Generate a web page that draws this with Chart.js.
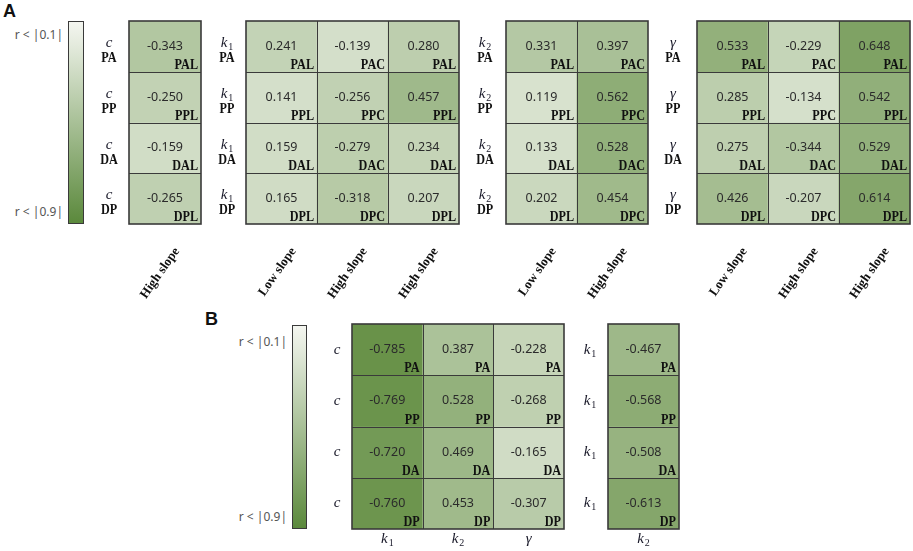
<!DOCTYPE html>
<html>
<head>
<meta charset="utf-8">
<script src="https://cdn.jsdelivr.net/npm/chart.js@4.4.0/dist/chart.umd.min.js"></script>
<style>
  body { margin: 0; background: #fff; }
  #fig { position: relative; width: 913px; height: 551px; overflow: hidden; }
  #fig canvas { position: absolute; left: 0; top: 0; }
  .panel { position: absolute; font: bold 18px "Liberation Sans", Arial, sans-serif; color: #111; }
  .cbar { position: absolute; box-sizing: border-box; border: 1px solid #3a3a3a;
          background: linear-gradient(#f4f6f0, #e3eadc 12%, #5b893c); }
  .clab { position: absolute; width: 60px; text-align: right; font: 12px "Noto Sans", sans-serif;
          color: #555; line-height: 14px; }
</style>
</head>
<body>
<div id="fig">
  <div class="panel" style="left:3px;top:1px">A</div>
  <div class="cbar" style="left:68px;top:21px;width:16px;height:203px"></div>
  <div class="clab" style="left:3px;top:28px">r &lt; |0.1|</div>
  <div class="clab" style="left:3px;top:205px">r &lt; |0.9|</div>

  <div class="panel" style="left:205px;top:309px">B</div>
  <div class="cbar" style="left:292px;top:325px;width:15px;height:204px"></div>
  <div class="clab" style="left:227px;top:335px">r &lt; |0.1|</div>
  <div class="clab" style="left:227px;top:510px">r &lt; |0.9|</div>
</div>

<script>
// ---- data, panel A ----
const rowsA = ["PA", "PP", "DA", "DP"];

const slopeC = ["High slope"];
const valuesC = [[-0.343], [-0.250], [-0.159], [-0.265]];
const tagsC = [["PAL"], ["PPL"], ["DAL"], ["DPL"]];

const slopeK1 = ["Low slope", "High slope", "High slope"];
const valuesK1 = [
  [0.241, -0.139, 0.280],
  [0.141, -0.256, 0.457],
  [0.159, -0.279, 0.234],
  [0.165, -0.318, 0.207]
];
const tagsK1 = [
  ["PAL", "PAC", "PAL"],
  ["PPL", "PPC", "PPL"],
  ["DAL", "DAC", "DAL"],
  ["DPL", "DPC", "DPL"]
];

const slopeK2 = ["Low slope", "High slope"];
const valuesK2 = [
  [0.331, 0.397],
  [0.119, 0.562],
  [0.133, 0.528],
  [0.202, 0.454]
];
const tagsK2 = [
  ["PAL", "PAC"],
  ["PPL", "PPC"],
  ["DAL", "DAC"],
  ["DPL", "DPC"]
];

const slopeG = ["Low slope", "High slope", "High slope"];
const valuesG = [
  [0.533, -0.229, 0.648],
  [0.285, -0.134, 0.542],
  [0.275, -0.344, 0.529],
  [0.426, -0.207, 0.614]
];
const tagsG = [
  ["PAL", "PAC", "PAL"],
  ["PPL", "PPC", "PPL"],
  ["DAL", "DAC", "DAL"],
  ["DPL", "DPC", "DPL"]
];

// ---- data, panel B ----
const rowsB = ["PA", "PP", "DA", "DP"];
const paramsB1 = ["k1", "k2", "γ"];
const valuesB1 = [
  [-0.785, 0.387, -0.228],
  [-0.769, 0.528, -0.268],
  [-0.720, 0.469, -0.165],
  [-0.760, 0.453, -0.307]
];
const paramsB2 = ["k2"];
const valuesB2 = [[-0.467], [-0.568], [-0.508], [-0.613]];

const W = 913, H = 551;
const VAL_FONT = '12.5px "Noto Sans", sans-serif';
const TAG_FONT = 'bold 14px "Liberation Serif", serif';
const ITAL_FONT = 'italic 15px "Liberation Serif", serif';
const SUB_FONT = '10px "Liberation Serif", serif';
const SLOPE_FONT = 'bold 13px "Liberation Serif", serif';
const LINE = '#3a3a3a';

function cellColor(r) {
  var t = (Math.abs(r) - 0.1) / 0.7;
  t = Math.min(Math.max(t, 0), 1);
  var lo = [219, 228, 210], hi = [102, 144, 70];
  var c = lo.map(function(v, k) { return Math.round(v + (hi[k] - v) * t); });
  return 'rgb(' + c.join(',') + ')';
}

function squeezed(ctx, text, x, y, align) {
  ctx.save();
  ctx.translate(x, y);
  ctx.scale(0.87, 1);
  ctx.textAlign = align;
  ctx.fillText(text, 0, 0);
  ctx.restore();
}

// draws c, γ, k1, k2 (k with an upright subscript), centred on cx
function drawParam(ctx, p, cx, baseline) {
  ctx.save();
  ctx.textAlign = 'left';
  ctx.textBaseline = 'alphabetic';
  ctx.font = ITAL_FONT;
  var head = p.charAt(0), sub = p.slice(1);
  var w1 = ctx.measureText(head).width;
  ctx.font = SUB_FONT;
  var w2 = sub ? ctx.measureText(sub).width + 1 : 0;
  var x0 = cx - (w1 + w2) / 2;
  ctx.font = ITAL_FONT;
  ctx.fillText(head, x0, baseline);
  if (sub) {
    ctx.font = SUB_FONT;
    ctx.fillText(sub, x0 + w1 + 1, baseline + 3);
  }
  ctx.restore();
}

function makeCanvas(id) {
  var c = document.createElement('canvas');
  c.id = id;
  c.width = W;
  c.height = H;
  document.getElementById('fig').appendChild(c);
  return c.getContext('2d');
}

function heatmapPlugin(spec) {
  return {
    id: 'cells-' + spec.id,
    afterDraw: function(chart) {
      var ctx = chart.ctx;
      var xs = chart.scales.x, ys = chart.scales.y, area = chart.chartArea;
      var nCols = spec.cols.length, nRows = spec.values.length;

      // grid
      ctx.save();
      ctx.strokeStyle = LINE;
      ctx.lineWidth = 1;
      ctx.beginPath();
      for (var k = 1; k < nCols; k++) {
        var gx = Math.round(xs.getPixelForValue(k - 0.5)) + 0.5;
        ctx.moveTo(gx, area.top); ctx.lineTo(gx, area.bottom);
      }
      for (var r = 1; r < nRows; r++) {
        var gy = Math.round(ys.getPixelForValue(r)) + 0.5;
        ctx.moveTo(area.left, gy); ctx.lineTo(area.right, gy);
      }
      ctx.stroke();
      ctx.lineWidth = 1.6;
      ctx.strokeRect(area.left, area.top, area.right - area.left, area.bottom - area.top);
      ctx.restore();

      // values and tags
      ctx.save();
      for (var i = 0; i < nRows; i++) {
        var meta = chart.getDatasetMeta(i);
        meta.data.forEach(function(bar, j) {
          var p = bar.getProps(['x', 'y', 'base', 'width'], true);
          var top = Math.min(p.y, p.base), bottom = Math.max(p.y, p.base);
          ctx.fillStyle = '#2b2b2b';
          ctx.font = VAL_FONT;
          ctx.textAlign = 'center';
          ctx.textBaseline = 'middle';
          ctx.fillText(spec.values[i][j].toFixed(3), p.x, (top + bottom) / 2);
          ctx.fillStyle = '#111';
          ctx.font = TAG_FONT;
          ctx.textBaseline = 'alphabetic';
          squeezed(ctx, spec.tags[i][j], p.x + p.width / 2 - 3, bottom - 3, 'right');
        });
      }

      // row labels
      for (var i2 = 0; i2 < nRows; i2++) {
        var rTop = ys.getPixelForValue(i2);
        var rMid = ys.getPixelForValue(i2 + 0.5);
        ctx.fillStyle = '#1a1a2a';
        if (spec.rowNames) {
          drawParam(ctx, spec.param, spec.labelX, rTop + 26);
          ctx.fillStyle = '#111';
          ctx.font = TAG_FONT;
          ctx.textBaseline = 'alphabetic';
          squeezed(ctx, spec.rowNames[i2], spec.labelX, rTop + 41, 'center');
        } else {
          drawParam(ctx, spec.param, spec.labelX, rMid + 4);
        }
      }

      // column labels
      for (var j2 = 0; j2 < nCols; j2++) {
        var cx = xs.getPixelForValue(j2);
        if (spec.colStyle === 'slope') {
          ctx.save();
          ctx.translate(cx + 12, area.bottom + 25);
          ctx.rotate(-55 * Math.PI / 180);
          ctx.fillStyle = '#111';
          ctx.font = SLOPE_FONT;
          ctx.textAlign = 'right';
          ctx.textBaseline = 'middle';
          ctx.fillText(spec.cols[j2], 0, 0);
          ctx.restore();
        } else {
          ctx.fillStyle = '#1a1a2a';
          drawParam(ctx, spec.cols[j2], cx, area.bottom + 14);
        }
      }
      ctx.restore();
    }
  };
}

function initHeatmap(spec) {
  var box = spec.box;
  var datasets = spec.values.map(function(rowVals, i) {
    return {
      data: spec.cols.map(function() { return [i, i + 1]; }),
      backgroundColor: rowVals.map(cellColor),
      borderWidth: 0,
      grouped: false,
      barPercentage: 1,
      categoryPercentage: 1
    };
  });

  const config = {
    type: 'bar',
    data: { labels: spec.cols, datasets: datasets },
    options: {
      responsive: false,
      animation: false,
      events: [],
      layout: {
        padding: { left: box[0], top: box[1], right: W - box[2], bottom: H - box[3] }
      },
      scales: {
        x: { display: false, offset: true },
        y: { display: false, min: 0, max: spec.values.length, reverse: true }
      },
      plugins: {
        legend: { display: false },
        tooltip: { enabled: false }
      }
    },
    plugins: [heatmapPlugin(spec)]
  };

  new Chart(makeCanvas(spec.id), config);
}

function rowTags(rows, cols) {
  return rows.map(function(r) { return cols.map(function() { return r; }); });
}

initHeatmap({ id: 'a-c',  box: [129, 21, 201, 224], cols: slopeC,  values: valuesC,  tags: tagsC,
              param: 'c',  rowNames: rowsA, labelX: 109, colStyle: 'slope' });
initHeatmap({ id: 'a-k1', box: [246, 21, 459, 224], cols: slopeK1, values: valuesK1, tags: tagsK1,
              param: 'k1', rowNames: rowsA, labelX: 227, colStyle: 'slope' });
initHeatmap({ id: 'a-k2', box: [506, 21, 648, 224], cols: slopeK2, values: valuesK2, tags: tagsK2,
              param: 'k2', rowNames: rowsA, labelX: 485, colStyle: 'slope' });
initHeatmap({ id: 'a-g',  box: [697, 21, 910, 224], cols: slopeG,  values: valuesG,  tags: tagsG,
              param: 'γ',  rowNames: rowsA, labelX: 673, colStyle: 'slope' });

initHeatmap({ id: 'b-c',  box: [352, 324, 564, 529], cols: paramsB1, values: valuesB1,
              tags: rowTags(rowsB, paramsB1), param: 'c',  rowNames: null, labelX: 337, colStyle: 'param' });
initHeatmap({ id: 'b-k1', box: [608, 324, 679, 529], cols: paramsB2, values: valuesB2,
              tags: rowTags(rowsB, paramsB2), param: 'k1', rowNames: null, labelX: 590, colStyle: 'param' });
</script>
</body>
</html>
